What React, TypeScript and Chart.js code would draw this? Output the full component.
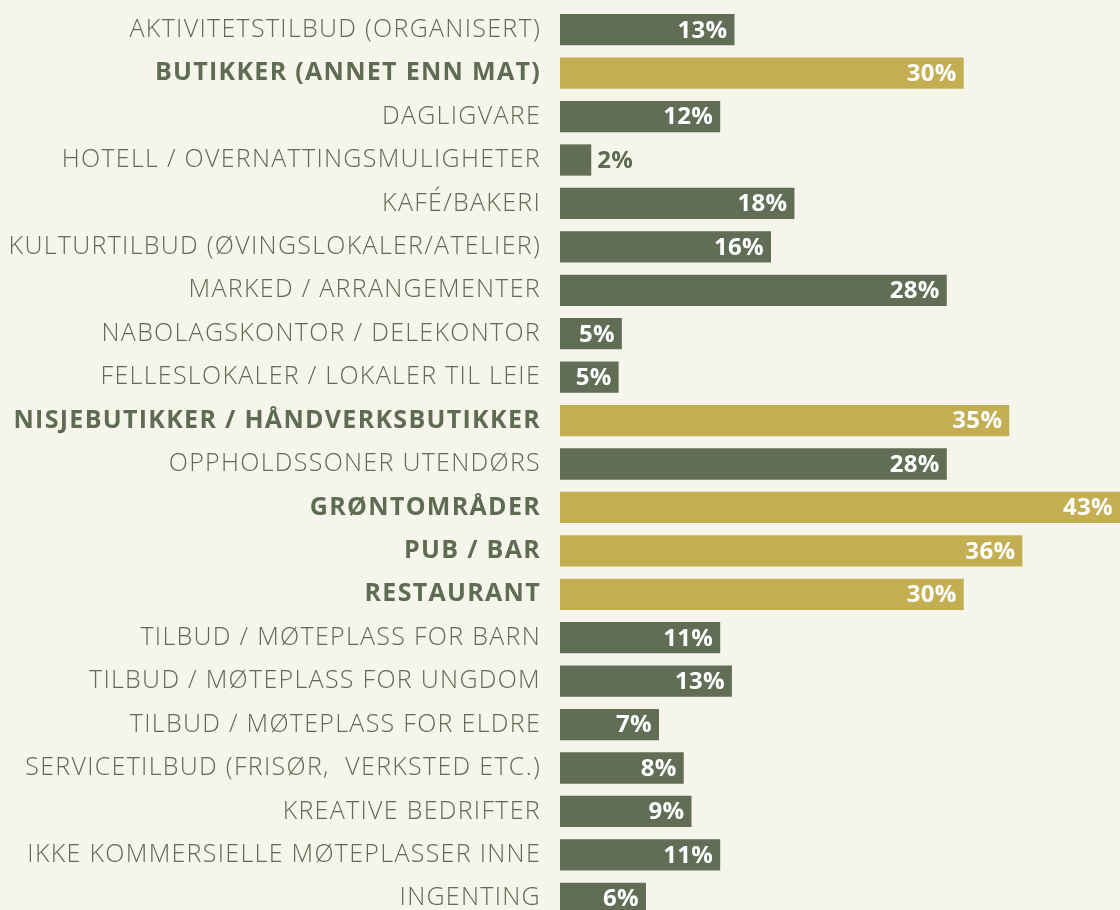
import React, { useEffect, useRef } from "react";
import { Chart, registerables } from "chart.js";

Chart.register(...registerables);

const categories = [
  "AKTIVITETSTILBUD (ORGANISERT)",
  "BUTIKKER (ANNET ENN MAT)",
  "DAGLIGVARE",
  "HOTELL / OVERNATTINGSMULIGHETER",
  "KAFÉ/BAKERI",
  "KULTURTILBUD (ØVINGSLOKALER/ATELIER)",
  "MARKED / ARRANGEMENTER",
  "NABOLAGSKONTOR / DELEKONTOR",
  "FELLESLOKALER / LOKALER TIL LEIE",
  "NISJEBUTIKKER / HÅNDVERKSBUTIKKER",
  "OPPHOLDSSONER UTENDØRS",
  "GRØNTOMRÅDER",
  "PUB / BAR",
  "RESTAURANT",
  "TILBUD / MØTEPLASS FOR BARN",
  "TILBUD / MØTEPLASS FOR UNGDOM",
  "TILBUD / MØTEPLASS FOR ELDRE",
  "SERVICETILBUD (FRISØR,  VERKSTED ETC.)",
  "KREATIVE BEDRIFTER",
  "IKKE KOMMERSIELLE MØTEPLASSER INNE",
  "INGENTING",
];

// bar lengths as drawn in the picture (in percent units)
const barLengths = [
  13.4, 31.0, 12.3, 2.4, 18.0, 16.2, 29.7, 4.75, 4.5, 34.5, 29.7, 43.0, 35.5,
  31.0, 12.3, 13.2, 7.6, 9.5, 10.1, 12.3, 6.6,
];

// printed value labels
const percentLabels = [
  13, 30, 12, 2, 18, 16, 28, 5, 5, 35, 28, 43, 36, 30, 11, 13, 7, 8, 9, 11, 6,
];

const highlighted = [
  false, true, false, false, false, false, false, false, false, true, false,
  true, true, true, false, false, false, false, false, false, false,
];

const GREEN = "#626d55";
const GOLD = "#c4ae52";
const BG = "#f5f5ec";
const TEXT = "#5f6b52";
const FONT = "'Open Sans', Lato, sans-serif";

const spacingPlugin = {
  id: "letterSpacing",
  beforeDraw(chart: any) {
    chart.ctx.letterSpacing = "1.3px";
  },
};

const valueLabelPlugin = {
  id: "valueLabels",
  afterDatasetsDraw(chart: any) {
    const ctx = chart.ctx;
    const meta = chart.getDatasetMeta(0);
    ctx.save();
    ctx.letterSpacing = "0.3px";
    ctx.font = `bold 24px ${FONT}`;
    ctx.textBaseline = "middle";
    meta.data.forEach((bar: any, i: number) => {
      const text = `${percentLabels[i]}%`;
      const w = ctx.measureText(text).width;
      const left = bar.base;
      const right = bar.x;
      if (right - left >= w + 14) {
        ctx.fillStyle = "#ffffff";
        ctx.textAlign = "right";
        ctx.fillText(text, Math.min(right, chart.chartArea.right) - 7, bar.y + 1);
      } else {
        ctx.fillStyle = TEXT;
        ctx.textAlign = "left";
        ctx.fillText(text, right + 6, bar.y + 1);
      }
    });
    ctx.restore();
  },
};

export default function App() {
  const canvasRef = useRef<HTMLCanvasElement | null>(null);

  useEffect(() => {
    document.body.style.background = BG;
    const canvas = canvasRef.current;
    if (!canvas) return;
    const chart = new Chart(canvas, {
      type: "bar",
      data: {
        labels: categories,
        datasets: [
          {
            data: barLengths,
            backgroundColor: highlighted.map((h) => (h ? GOLD : GREEN)),
            borderWidth: 0,
            categoryPercentage: 1,
            barPercentage: 0.72,
          },
        ],
      },
      options: {
        indexAxis: "y",
        animation: false,
        responsive: true,
        maintainAspectRatio: false,
        layout: { padding: { top: 8, bottom: 0, left: 0, right: 0 } },
        plugins: {
          legend: { display: false },
          tooltip: { enabled: false },
        },
        scales: {
          x: {
            display: false,
            min: 0,
            max: 43,
          },
          y: {
            grid: { display: false, drawTicks: false },
            border: { display: false },
            afterFit: (scale: any) => {
              scale.width = 560;
              scale.paddingTop = 0;
              scale.paddingBottom = 0;
            },
            ticks: {
              autoSkip: false,
              padding: 19,
              color: TEXT,
              font: (c: any) => ({
                family: FONT,
                size: 25,
                weight: highlighted[c.index] ? "bold" : "300",
              }),
            },
          },
        },
      },
      plugins: [spacingPlugin, valueLabelPlugin],
    });
    return () => chart.destroy();
  }, []);

  return (
    <div
      style={{
        position: "fixed",
        left: 0,
        top: 0,
        width: 1120,
        height: 920,
        background: BG,
      }}
    >
      <canvas ref={canvasRef} />
    </div>
  );
}
